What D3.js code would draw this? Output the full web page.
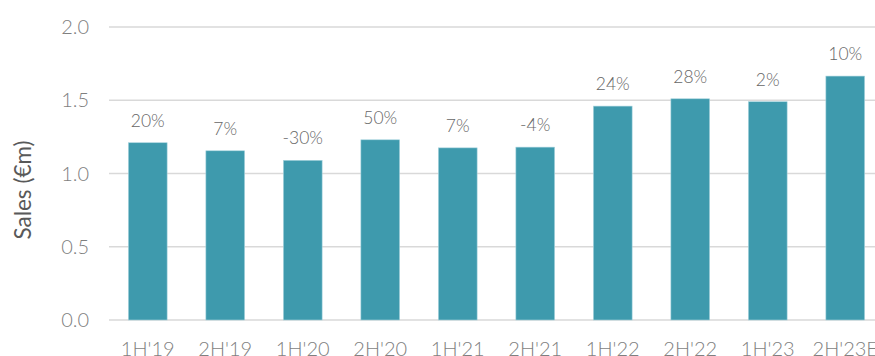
<!DOCTYPE html>
<html>
<head>
<meta charset="utf-8">
<script src="https://cdn.jsdelivr.net/npm/d3@7"></script>
<style>
  body { margin: 0; background: #fff; }
  svg { display: block; font-family: Lato, "Open Sans", sans-serif; }
</style>
</head>
<body>
<div id="chart"></div>
<script>
const periods = ["1H'19", "2H'19", "1H'20", "2H'20", "1H'21", "2H'21", "1H'22", "2H'22", "1H'23", "2H'23E"];
const sales = [1.21, 1.155, 1.09, 1.23, 1.175, 1.18, 1.46, 1.51, 1.49, 1.665];
const growth = ["20%", "7%", "-30%", "50%", "7%", "-4%", "24%", "28%", "2%", "10%"];
const yTicks = [0, 0.5, 1.0, 1.5, 2.0];

const width = 875, height = 356;
const margin = {top: 27, right: -9, bottom: 36, left: 109};

const svg = d3.select("#chart").append("svg")
    .attr("width", width)
    .attr("height", height);

const x = d3.scaleBand()
    .domain(periods)
    .range([margin.left, width - margin.right])
    .paddingInner(0.5)
    .paddingOuter(0.25);

const y = d3.scaleLinear()
    .domain([0, 2])
    .range([height - margin.bottom, margin.top]);

// gridlines
svg.append("g")
    .selectAll("line")
    .data(yTicks)
    .join("line")
    .attr("x1", margin.left)
    .attr("x2", width)
    .attr("y1", d => y(d))
    .attr("y2", d => y(d))
    .attr("stroke", "#d9d9d9")
    .attr("stroke-width", 1.5);

// y tick labels
svg.append("g")
    .selectAll("text")
    .data(yTicks)
    .join("text")
    .attr("x", 89)
    .attr("y", d => y(d))
    .attr("dy", "0.35em")
    .attr("text-anchor", "end")
    .attr("fill", "#7f7f7f")
    .style("font-size", "20px")
    .style("font-weight", 300)
    .text(d => d.toFixed(1));

// bars
svg.append("g")
    .selectAll("rect")
    .data(sales)
    .join("rect")
    .attr("x", (d, i) => x(periods[i]))
    .attr("y", d => y(d))
    .attr("width", x.bandwidth())
    .attr("height", d => y(0) - y(d))
    .attr("fill", "#3e9aad")
    .attr("stroke", "#a8d4de")
    .attr("stroke-width", 0.6);

// growth labels
svg.append("g")
    .selectAll("text")
    .data(growth)
    .join("text")
    .attr("x", (d, i) => x(periods[i]) + x.bandwidth() / 2)
    .attr("y", (d, i) => y(sales[i]) - 16)
    .attr("text-anchor", "middle")
    .attr("fill", "#666")
    .style("font-size", "17.5px")
    .style("font-weight", 300)
    .text(d => d);

// x labels (cut by the bottom edge, as in the source)
svg.append("g")
    .selectAll("text")
    .data(periods)
    .join("text")
    .attr("x", d => x(d) + x.bandwidth() / 2)
    .attr("y", y(0) + 36)
    .attr("text-anchor", "middle")
    .attr("fill", "#7f7f7f")
    .style("font-size", "20px")
    .style("font-weight", 300)
    .text(d => d);

// y axis title
svg.append("text")
    .attr("transform", "translate(31,190) rotate(-90)")
    .attr("text-anchor", "middle")
    .attr("fill", "#595959")
    .style("font-size", "22.5px")
    .text("Sales (€m)");
</script>
</body>
</html>
